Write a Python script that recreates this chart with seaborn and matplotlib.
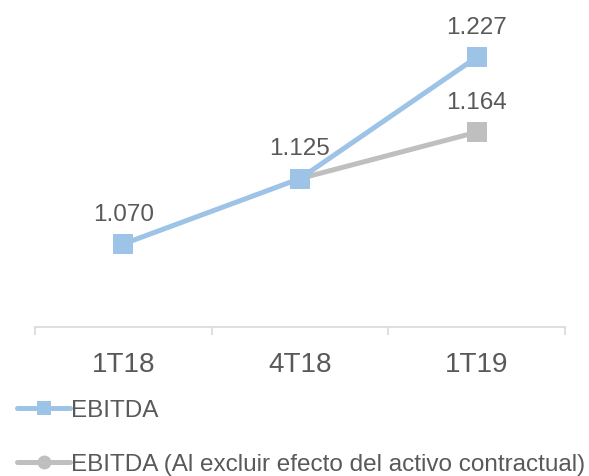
import matplotlib
matplotlib.use("Agg")
import matplotlib.pyplot as plt
from matplotlib.lines import Line2D
from matplotlib.ticker import FixedLocator
import numpy as np
import seaborn as sns

periods = ["1T18", "4T18", "1T19"]
ebitda = [1.070, 1.125, 1.227]
ebitda_excl = [np.nan, 1.125, 1.164]
ebitda_labels = ["1.070", "1.125", "1.227"]
excl_labels = ["", "", "1.164"]

BLUE = "#9DC3E6"
GRAY = "#BFBFBF"
TEXT = "#595959"

sns.set_theme(style="white")
plt.rcParams["font.family"] = ["Liberation Sans", "DejaVu Sans"]

fig = plt.figure(figsize=(5.89, 4.77), dpi=100)
ax = fig.add_axes([0.0594, 0.312, 0.8996, 0.623])

x = np.arange(len(periods))
sns.lineplot(x=x, y=ebitda_excl, ax=ax, color=GRAY, lw=3.6, marker="s",
             markersize=14, markeredgewidth=0, zorder=2)
sns.lineplot(x=x, y=ebitda, ax=ax, color=BLUE, lw=3.6, marker="s",
             markersize=14, markeredgewidth=0, zorder=3)

for xi, v, lab in zip(x, ebitda, ebitda_labels):
    ax.annotate(lab, (xi, v), xytext=(0, 14), textcoords="offset points",
                ha="center", va="bottom", fontsize=17.5, color=TEXT)
for xi, v, lab in zip(x, ebitda_excl, excl_labels):
    if lab:
        ax.annotate(lab, (xi, v), xytext=(0, 14), textcoords="offset points",
                    ha="center", va="bottom", fontsize=17.5, color=TEXT)

ax.set_xlim(-0.5, 2.5)
ax.set_ylim(1.0, 1.25)
ax.set_xticks(x)
ax.set_xticklabels(periods, fontsize=20, color=TEXT)
ax.xaxis.set_minor_locator(FixedLocator([-0.5, 0.5, 1.5, 2.5]))
ax.tick_params(axis="x", which="major", length=0, pad=17)
ax.tick_params(axis="x", which="minor", length=6, color="#D9D9D9", width=1.2,
               bottom=True)
ax.set_yticks([])
for s in ["top", "right", "left"]:
    ax.spines[s].set_visible(False)
ax.spines["bottom"].set_color("#D9D9D9")
ax.spines["bottom"].set_linewidth(1.2)
ax.set_xlabel("")
ax.set_ylabel("")

handles = [
    Line2D([], [], color=BLUE, lw=3.6, marker="s", markersize=10, markeredgewidth=0),
    Line2D([], [], color=GRAY, lw=3.6, marker="o", markersize=10, markeredgewidth=0),
]
labels = ["EBITDA", "EBITDA (Al excluir efecto del activo contractual)"]
fig.legend(handles, labels, loc="upper left", bbox_to_anchor=(0.012, 0.181),
           frameon=False, fontsize=17.5, handlelength=2.2, handletextpad=0.05,
           labelspacing=1.3, borderaxespad=0, labelcolor=TEXT)

fig.savefig("out.png", dpi=100)
